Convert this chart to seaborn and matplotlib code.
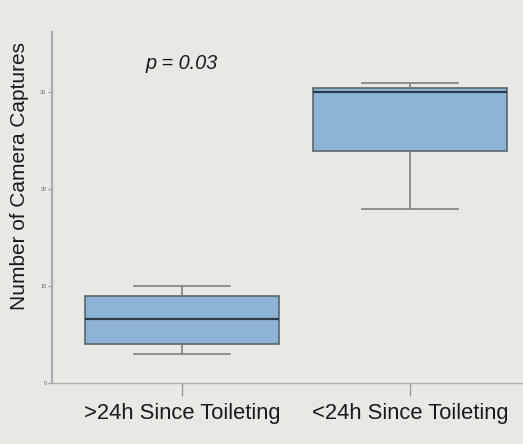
import pandas as pd
import seaborn as sns
import matplotlib.pyplot as plt

groups = ['>24h Since Toileting', '<24h Since Toileting']
over_24h = [3, 4, 6.6, 9, 10]
under_24h = [18, 24, 30, 30.5, 31]
y_ticks = [0, 10, 20, 30]

df = pd.DataFrame({
    'group': [groups[0]] * len(over_24h) + [groups[1]] * len(under_24h),
    'captures': over_24h + under_24h,
})

plt.rcParams['font.family'] = ['Liberation Sans', 'DejaVu Sans']

bg = '#e8e9e4'
fig = plt.figure(figsize=(5.23, 4.44), dpi=100, facecolor=bg)
ax = fig.add_axes([0.0994, 0.137, 0.933, 0.79], facecolor=bg)

sns.boxplot(data=df, x='group', y='captures', order=groups, color='#8db4d5',
            width=0.85, whis=1.5, saturation=1, ax=ax,
            boxprops=dict(edgecolor='#5a6670', linewidth=1.2),
            medianprops=dict(color='#2b3a48', linewidth=1.6),
            whiskerprops=dict(color='#808080', linewidth=1.2),
            capprops=dict(color='#808080', linewidth=1.2),
            showfliers=False)

ax.set_xlim(-0.57, 1.57)
ax.set_ylim(0, 36.2)
ax.set_yticks(y_ticks)
ax.set_yticklabels([str(t) for t in y_ticks], fontsize=4, color='#666666')
ax.tick_params(axis='y', length=3, width=0.8, color='#999999', pad=1)
ax.tick_params(axis='x', length=9.5, width=1, color='#999999', labelsize=15.8, pad=5,
               labelcolor='#1a1a1a')
ax.set_xlabel('')
ax.set_ylabel('Number of Camera Captures', fontsize=15, color='#1a1a1a')
ax.yaxis.set_label_coords(-0.047, 0.59)

for side in ['top', 'right']:
    ax.spines[side].set_visible(False)
ax.spines['left'].set_color('#aaaaaa')
ax.spines['left'].set_linewidth(1.5)
ax.spines['bottom'].set_color('#b0b0b0')
ax.spines['bottom'].set_linewidth(1)

ax.text(0, 33, 'p = 0.03', style='italic', fontsize=14.3, ha='center', va='center',
        color='#1a1a1a')

fig.savefig('out.png', dpi=100, facecolor=bg)
